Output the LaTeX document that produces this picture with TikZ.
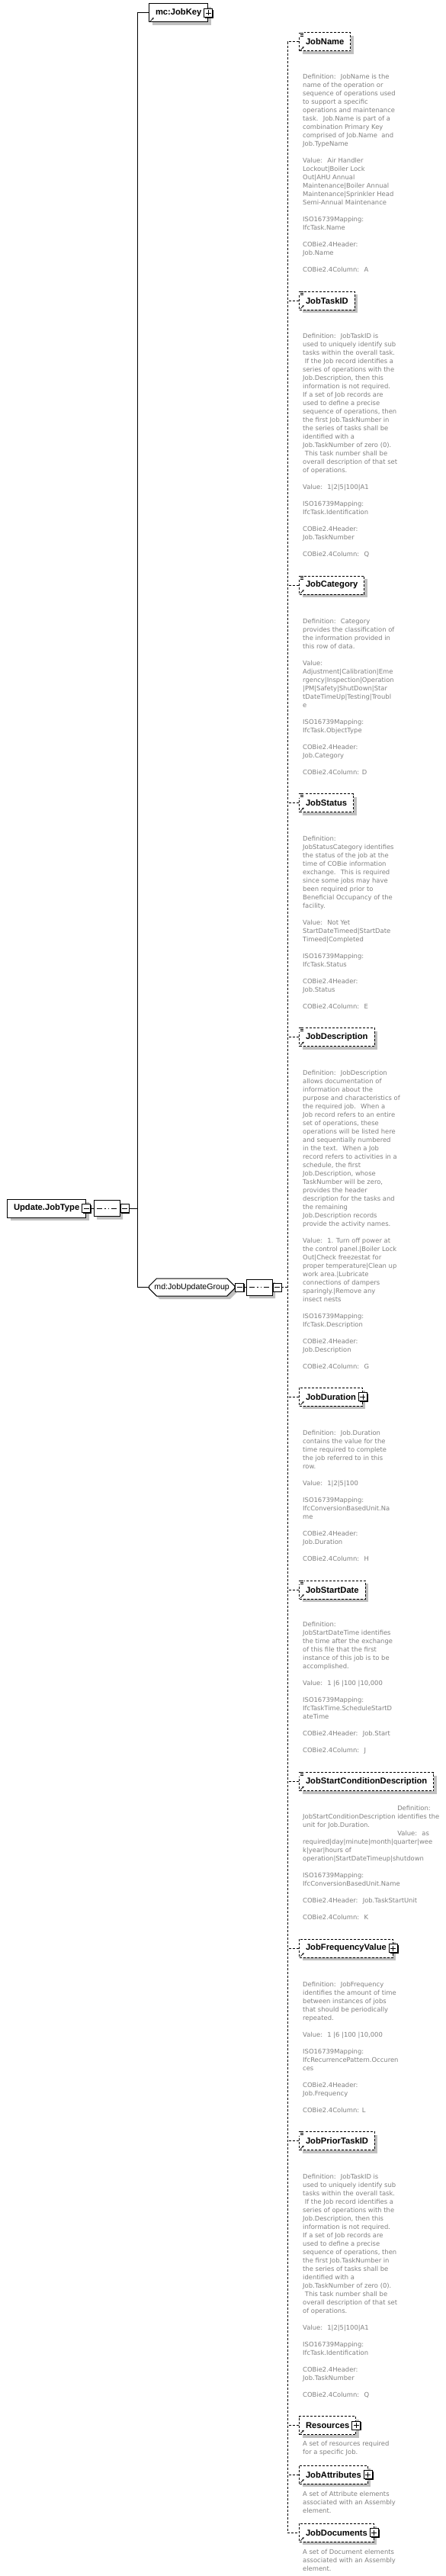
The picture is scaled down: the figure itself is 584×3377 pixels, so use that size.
\documentclass[tikz,border=0pt]{standalone}
\usepackage{fontspec}
\usetikzlibrary{shapes.misc,shadows,arrows.meta,calc}
\newfontfamily\descfamily{DejaVu Sans}
\newfontfamily\namefamily{Liberation Sans}
\definecolor{descgray}{RGB}{128,128,128}
\definecolor{shadowgray}{RGB}{192,192,192}
\newcommand\BL{\mbox{}\\}
\newcommand\descnode[3]{\node[desc] (#1) at (397,#2) {\parbox[t]{260pt}{\raggedright #3}};}
\newcommand\arrowicon[1]{\draw[line width=0.7pt,-{Stealth[length=2.6pt,width=2.8pt]}] ([xshift=2.2pt,yshift=1.8pt]#1.south west) -- ++(4.5,-4.5);}
\newcommand\listicon[1]{\fill[white] ([xshift=-0.6pt,yshift=0.6pt]#1.north west) rectangle ++(7.5,6.5);
  \draw[line width=0.7pt] ([xshift=-0.3pt,yshift=-0.4pt]#1.north west) -- ++(6.5,0)
   ([xshift=1.5pt,yshift=-2.4pt]#1.north west) -- ++(4.7,0)
   ([xshift=1.5pt,yshift=-4.4pt]#1.north west) -- ++(4.7,0);}
\begin{document}
\begin{tikzpicture}[x=1pt,y=-1pt,
  conn/.style={line width=1pt},
  dconn/.style={line width=1pt,dash pattern=on 3pt off 2pt},
  elem/.style={rectangle,draw,line width=1pt,fill=white,minimum height=24pt,inner xsep=8.5pt,inner ysep=0pt,
    anchor=west,font=\namefamily\bfseries\fontsize{11.2}{13}\selectfont,
    drop shadow={shadow xshift=4pt,shadow yshift=-4pt,fill=shadowgray,opacity=1}},
  optelem/.style={elem,dash pattern=on 3pt off 2pt},
  group/.style={chamfered rectangle,chamfered rectangle xsep=5pt,chamfered rectangle ysep=5pt,draw,line width=1pt,fill=white,
    minimum height=23pt,inner xsep=2pt,inner ysep=0pt,anchor=west,font=\namefamily\fontsize{10.6}{12}\selectfont,
    drop shadow={shadow xshift=4pt,shadow yshift=-4pt,fill=shadowgray,opacity=1}},
  seqnode/.style={chamfered rectangle,chamfered rectangle xsep=5pt,chamfered rectangle ysep=5pt,draw,line width=1pt,fill=white,
    minimum width=34pt,minimum height=21pt,inner sep=0pt,
    drop shadow={shadow xshift=4pt,shadow yshift=-4pt,fill=shadowgray,opacity=1},
    path picture={\draw[line width=1pt] ([xshift=4pt]path picture bounding box.west) -- ([xshift=-4pt]path picture bounding box.east);
      \foreach \dx in {-4.5,0,4.5} \fill ([xshift=\dx pt]path picture bounding box.center) +(-1.5pt,-1.5pt) rectangle +(1.5pt,1.5pt);}},
  pmbox/.style={rectangle,draw,line width=0.8pt,fill=white,minimum size=11pt,inner sep=0pt,
    drop shadow={shadow xshift=1.2pt,shadow yshift=-1.2pt,fill=black,opacity=1}},
  minusbox/.style={pmbox,path picture={\draw[line width=0.9pt] ([xshift=2pt]path picture bounding box.west) -- ([xshift=-2pt]path picture bounding box.east);}},
  plusbox/.style={pmbox,path picture={\draw[line width=0.9pt] ([xshift=2pt]path picture bounding box.west) -- ([xshift=-2pt]path picture bounding box.east)
     ([yshift=2pt]path picture bounding box.south) -- ([yshift=-2pt]path picture bounding box.north);}},
  desc/.style={anchor=base west,inner sep=0pt,yshift=-3.3pt,text=descgray,font=\descfamily\fontsize{8.4}{11}\selectfont}
]
\useasboundingbox (0,0) rectangle (584,3377);

% root
\node[elem] (root) at (9,1584) {Update.JobType};
\node[minusbox] (rootm) at (root.east) {};
\node[seqnode] (seq1) at (140,1584) {};
\node[minusbox,anchor=west] (seq1m) at (seq1.east) {};
\coordinate (bus1) at (180,1584);
\draw[conn] (rootm.east) -- (seq1.west);
\draw[conn] (seq1m.east) -- (bus1);

% first level
\node[elem] (jobkey) at (195,17) {mc:JobKey\hspace{3pt}};
\node[plusbox] (jobkeyp) at (jobkey.east) {};
\arrowicon{jobkey}
\node[group] (grp) at (195,1687.5) {md:JobUpdateGroup};
\node[minusbox,anchor=west] (grpm) at (grp.east) {};
\node[seqnode] (seq2) at (340,1687.5) {};
\node[minusbox,anchor=west] (seq2m) at (seq2.east) {};
\coordinate (bus2) at (377,1687.5);
\draw[conn] (jobkey.west) -- ++(-15,0) |- (grp.west);
\draw[conn] (grpm.east) -- (seq2.west);
\draw[dconn] (seq2m.east) -- (bus2);

% children
\node[optelem] (jobname) at (392,55) {JobName};
\node[optelem] (jobtaskid) at (392,394) {JobTaskID};
\node[optelem] (jobcategory) at (392,767) {JobCategory};
\node[optelem] (jobstatus) at (392,1052.5) {JobStatus};
\node[optelem] (jobdescription) at (392,1359.5) {JobDescription};
\node[optelem] (jobduration) at (392,1831) {JobDuration\hspace{4pt}};
\node[optelem] (jobstartdate) at (392,2084) {JobStartDate};
\node[optelem] (jobstartcond) at (392,2335.5) {JobStartConditionDescription};
\node[optelem] (jobfreq) at (392,2554) {JobFrequencyValue\hspace{4pt}};
\node[optelem] (jobprior) at (392,2806.5) {JobPriorTaskID};
\node[optelem] (resources) at (392,3179.5) {Resources\hspace{4pt}};
\node[optelem] (jobattributes) at (392,3244) {JobAttributes\hspace{4pt}};
\node[optelem] (jobdocuments) at (392,3320) {JobDocuments\hspace{4pt}};

\foreach \n in {jobname,jobtaskid,jobcategory,jobstatus,jobdescription,jobstartdate,jobstartcond,jobprior}{\listicon{\n}}
\foreach \n in {jobname,jobtaskid,jobcategory,jobstatus,jobdescription,jobduration,jobstartdate,jobstartcond,jobfreq,jobprior,resources,jobattributes,jobdocuments}{\arrowicon{\n}}
\node[plusbox] (jobdurationp) at (jobduration.east) {};
\node[plusbox] (jobfreqp) at (jobfreq.east) {};
\node[plusbox] (resourcesp) at (resources.east) {};
\node[plusbox] (jobattributesp) at (jobattributes.east) {};
\node[plusbox] (jobdocumentsp) at (jobdocuments.east) {};

\draw[dconn] (jobname.west) -- ++(-15,0) |- (jobdocuments.west);
\foreach \n in {jobtaskid,jobcategory,jobstatus,jobdescription,jobduration,jobstartdate,jobstartcond,jobfreq,jobprior,resources,jobattributes}{\draw[dconn] (\n.west) -- ++(-15,0);}

% descriptions
\descnode{djobname}{100}{Definition:~ JobName is the\\
name of the operation or\\
sequence of operations used\\
to support a specific\\
operations and maintenance\\
task.~ Job.Name is part of a\\
combination Primary Key\\
comprised of Job.Name~ and\\
Job.TypeName\\
\BL
Value:~ Air Handler\\
Lockout|Boiler Lock\\
Out|AHU Annual\\
Maintenance|Boiler Annual\\
Maintenance|Sprinkler Head\\
Semi-Annual Maintenance\\
\BL
ISO16739Mapping:\\
IfcTask.Name\\
\BL
COBie2.4Header:\\
Job.Name\\
\BL
COBie2.4Column:~ A}

\descnode{djobtaskid}{440}{Definition:~ JobTaskID is\\
used to uniquely identify sub\\
tasks within the overall task.\\
~If the Job record identifies a\\
series of operations with the\\
Job.Description, then this\\
information is not required.\\
If a set of Job records are\\
used to define a precise\\
sequence of operations, then\\
the first Job.TaskNumber in\\
the series of tasks shall be\\
identified with a\\
Job.TaskNumber of zero (0).\\
~This task number shall be\\
overall description of that set\\
of operations.\\
\BL
Value:~ 1|2|5|100|A1\\
\BL
ISO16739Mapping:\\
IfcTask.Identification\\
\BL
COBie2.4Header:\\
Job.TaskNumber\\
\BL
COBie2.4Column:~ Q}

\descnode{djobcategory}{814}{Definition:~ Category\\
provides the classification of\\
the information provided in\\
this row of data.\\
\BL
Value:\\
Adjustment|Calibration|Eme\\
rgency|Inspection|Operation\\
|PM|Safety|ShutDown|Star\\
tDateTimeUp|Testing|Troubl\\
e\\
\BL
ISO16739Mapping:\\
IfcTask.ObjectType\\
\BL
COBie2.4Header:\\
Job.Category\\
\BL
COBie2.4Column: D}

\descnode{djobstatus}{1099}{Definition:\\
JobStatusCategory identifies\\
the status of the job at the\\
time of COBie information\\
exchange.~ This is required\\
since some jobs may have\\
been required prior to\\
Beneficial Occupancy of the\\
facility.\\
\BL
Value:~ Not Yet\\
StartDateTimeed|StartDate\\
Timeed|Completed\\
\BL
ISO16739Mapping:\\
IfcTask.Status\\
\BL
COBie2.4Header:\\
Job.Status\\
\BL
COBie2.4Column:~ E}

\descnode{djobdescription}{1406}{Definition:~ JobDescription\\
allows documentation of\\
information about the\\
purpose and characteristics of\\
the required job.~ When a\\
Job record refers to an entire\\
set of operations, these\\
operations will be listed here\\
and sequentially numbered\\
in the text.~ When a Job\\
record refers to activities in a\\
schedule, the first\\
Job.Description, whose\\
TaskNumber will be zero,\\
provides the header\\
description for the tasks and\\
the remaining\\
Job.Description records\\
provide the activity names.\\
\BL
Value:~ 1. Turn off power at\\
the control panel.|Boiler Lock\\
Out|Check freezestat for\\
proper temperature|Clean up\\
work area.|Lubricate\\
connections of dampers\\
sparingly.|Remove any\\
insect nests\\
\BL
ISO16739Mapping:\\
IfcTask.Description\\
\BL
COBie2.4Header:\\
Job.Description\\
\BL
COBie2.4Column:~ G}

\descnode{djobduration}{1878}{Definition:~ Job.Duration\\
contains the value for the\\
time required to complete\\
the job referred to in this\\
row.\\
\BL
Value:~ 1|2|5|100\\
\BL
ISO16739Mapping:\\
IfcConversionBasedUnit.Na\\
me\\
\BL
COBie2.4Header:\\
Job.Duration\\
\BL
COBie2.4Column:~ H}

\descnode{djobstartdate}{2129}{Definition:\\
JobStartDateTime identifies\\
the time after the exchange\\
of this file that the first\\
instance of this job is to be\\
accomplished.\\
\BL
Value:~ 1 |6 |100 |10,000\\
\BL
ISO16739Mapping:\\
IfcTaskTime.ScheduleStartD\\
ateTime\\
\BL
COBie2.4Header:~ Job.Start\\
\BL
COBie2.4Column:~ J}

\descnode{djobstartcond}{2370}{\phantom{JobStartConditionDescription }Definition:\\
JobStartConditionDescription identifies the\\
unit for Job.Duration.\\
\phantom{JobStartConditionDescription }Value:~ as\\
required|day|minute|month|quarter|wee\\
k|year|hours of\\
operation|StartDateTimeup|shutdown\\
\BL
ISO16739Mapping:\\
IfcConversionBasedUnit.Name\\
\BL
COBie2.4Header:~ Job.TaskStartUnit\\
\BL
COBie2.4Column:~ K}

\descnode{djobfreq}{2601}{Definition:~ JobFrequency\\
identifies the amount of time\\
between instances of jobs\\
that should be periodically\\
repeated.\\
\BL
Value:~ 1 |6 |100 |10,000\\
\BL
ISO16739Mapping:\\
IfcRecurrencePattern.Occuren\\
ces\\
\BL
COBie2.4Header:\\
Job.Frequency\\
\BL
COBie2.4Column: L}

\descnode{djobprior}{2853}{Definition:~ JobTaskID is\\
used to uniquely identify sub\\
tasks within the overall task.\\
~If the Job record identifies a\\
series of operations with the\\
Job.Description, then this\\
information is not required.\\
If a set of Job records are\\
used to define a precise\\
sequence of operations, then\\
the first Job.TaskNumber in\\
the series of tasks shall be\\
identified with a\\
Job.TaskNumber of zero (0).\\
~This task number shall be\\
overall description of that set\\
of operations.\\
\BL
Value:~ 1|2|5|100|A1\\
\BL
ISO16739Mapping:\\
IfcTask.Identification\\
\BL
COBie2.4Header:\\
Job.TaskNumber\\
\BL
COBie2.4Column:~ Q}

\descnode{dresources}{3203}{A set of resources required\\
for a specific Job.}
\descnode{djobattributes}{3269}{A set of Attribute elements\\
associated with an Assembly\\
element.}
\descnode{djobdocuments}{3345}{A set of Document elements\\
associated with an Assembly\\
element.}
\end{tikzpicture}
\end{document}
